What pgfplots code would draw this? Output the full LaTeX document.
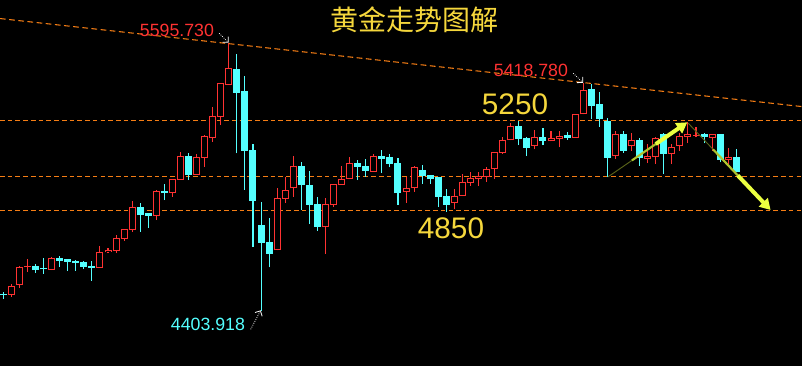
\documentclass[border=0pt]{standalone}
\usepackage{pgfplots}
\pgfplotsset{compat=1.18}
\usepackage{pgfplotstable}
\usepackage{fontspec}
\setmainfont{Liberation Sans}
\newfontfamily\cjk{Noto Sans CJK SC}
\usetikzlibrary{arrows.meta,calc}
\definecolor{cred}{RGB}{255,50,50}
\definecolor{ccyan}{RGB}{84,255,255}
\definecolor{corange}{RGB}{245,125,20}
\definecolor{cyellow}{RGB}{245,215,60}
\definecolor{ya}{RGB}{90,100,25}
\definecolor{yb}{RGB}{175,195,45}
\definecolor{yc}{RGB}{235,255,64}
\pgfplotsset{candle/.style={only marks, mark=*, mark options={opacity=0}, forget plot,
  error bars/.cd, y dir=plus, y explicit, error mark=none}}

% rising candles (red, hollow)
\pgfplotstableread{
i O H L C
2 4475 4523 4465 4514
3 4518 4603 4506 4597
4 4597 4634 4578 4603
7 4587 4643 4585 4639
13 4596 4692 4595 4665
14 4664 4682 4663 4674
15 4672 4741 4660 4727
16 4724 4767 4716 4767
17 4765 4893 4756 4865
20 4827 4942 4808 4937
22 4930 4991 4912 4991
23 4988 5110 4988 5092
25 5009 5101 5009 5088
26 5086 5187 5046 5181
27 5175 5311 5157 5270
28 5269 5417 5233 5417
29 5411 5595.73 5411 5484
35 4673 4949 4673 4905
36 4903 4999 4883 4941
37 4949 5093 4912 5048
41 4778 4906 4657 4879
42 4877 4969 4865 4969
43 4966 5049 4966 4990
44 4990 5088 4990 5061
47 5023 5102 5023 5092
51 4932 4999 4885 4949
52 4949 5049 4934 5043
57 4883 4945 4856 4915
58 4915 5013 4915 4976
59 4974 5021 4960 4995
60 4992 5021 4960 5004
61 4999 5043 4979 5034
62 5034 5110 4990 5110
63 5108 5179 5102 5165
64 5163 5242 5163 5226
67 5139 5208 5123 5177
69 5159 5205 5159 5172
70 5171 5204 5132 5181
72 5175 5279 5175 5279
73 5279 5418.78 5279 5388
77 5093 5205 5082 5190
79 5139 5197 5116 5163
81 5081 5146 5062 5093
82 5090 5177 5059 5172
84 5104 5146 5059 5134
85 5139 5195 5116 5183
86 5179 5244 5153 5192
87 5185 5223 5177 5189
89 5175 5190 5116 5190
91 5076 5128 5056 5088
}\up

% falling candles (cyan, filled)
\pgfplotstableread{
i O H L C
1 4478 4487 4456 4474
5 4603 4612 4573 4585
6 4592 4639 4569 4588
8 4639 4648 4600 4625
9 4634 4635 4582 4622
10 4627 4631 4582 4618
11 4622 4625 4591 4600
12 4603 4625 4538 4596
18 4865 4884 4755 4830
19 4838 4841 4774 4827
21 4937 4969 4897 4930
24 5093 5105 4986 5009
30 5480 5548 5105 5376
31 5383 5450 4942 5117
32 5120 5147 4689 4893
33 4786 4888 4403.918 4707
34 4709 4818 4597 4658
38 5048 5067 4853 4966
39 4966 5025 4790 4876
40 4878 4912 4761 4778
45 5062 5076 4986 5046
46 5049 5079 5001 5028
48 5093 5120 5019 5080
49 5088 5102 5043 5059
50 5062 5083 4875 4927
53 5031 5053 4969 5004
54 5009 5009 4969 4989
55 5000 5001 4865 4912
56 4915 4945 4845 4875
65 5226 5249 5142 5169
66 5174 5179 5093 5130
68 5178 5217 5142 5162
71 5187 5199 5165 5174
74 5390 5414 5260 5318
75 5325 5377 5224 5258
76 5249 5263 4998 5086
78 5190 5205 5108 5116
80 5163 5172 5049 5086
83 5190 5197 5013 5102
88 5190 5196 5150 5179
90 5191 5191 5065 5076
92 5088 5123 5021 5021
}\down

\begin{document}
\begin{tikzpicture}
\begin{axis}[
  scale only axis, width=601.5pt, height=274.5pt,
  xmin=0.59, xmax=100.16, ymin=4157.4, ymax=5788.7,
  axis line style={draw=none}, ticks=none,
  axis background/.style={fill=black},
]
% support / resistance lines
\addplot[corange, line width=0.8pt, dash pattern=on 3.5pt off 2.3pt] coordinates {(0.59,5250) (100.16,5250)};
\addplot[corange, line width=0.8pt, dash pattern=on 3.5pt off 2.3pt] coordinates {(0.59,5000) (100.16,5000)};
\addplot[corange, line width=0.8pt, dash pattern=on 3.5pt off 2.3pt] coordinates {(0.59,4850) (100.16,4850)};
% descending trend line
\addplot[corange, line width=0.8pt, dash pattern=on 4.3pt off 2.6pt] coordinates {(0.59,5706) (100.16,5313.6)};

% rising candles
\addplot[cred, candle, error bar style={line width=0.8pt}]
  table[x=i, y=L, y error plus expr={\thisrow{H}-\thisrow{L}}] {\up};
\addplot[cred, candle, error bar style={line width=5.25pt}]
  table[x=i, y=O, y error plus expr={\thisrow{C}-\thisrow{O}}] {\up};
\addplot[black, candle, error bar style={line width=3.75pt}]
  table[x=i, y expr={\thisrow{O}+4.46}, y error plus expr={max(\thisrow{C}-\thisrow{O}-8.92,0)}] {\up};

% falling candles
\addplot[ccyan, candle, error bar style={line width=0.8pt}]
  table[x=i, y=L, y error plus expr={\thisrow{H}-\thisrow{L}}] {\down};
\addplot[ccyan, candle, error bar style={line width=5.25pt}]
  table[x=i, y=C, y error plus expr={\thisrow{O}-\thisrow{C}}] {\down};

% texts
\node[text=cyellow, font=\cjk\fontsize{21}{21}\selectfont] at (axis cs:51.99,5699.6) {黄金走势图解};
\node[text=cred, font=\fontsize{13.3}{13.3}\selectfont] at (axis cs:22.56,5652.8) {5595.730};
\node[text=cred, font=\fontsize{13.3}{13.3}\selectfont] at (axis cs:66.51,5475.4) {5418.780};
\node[text=ccyan, font=\fontsize{13.3}{13.3}\selectfont] at (axis cs:26.41,4343) {4403.918};
\node[text=cyellow, font=\fontsize{22.3}{22.3}\selectfont] at (axis cs:64.53,5325.2) {5250};
\node[text=cyellow, font=\fontsize{22.3}{22.3}\selectfont] at (axis cs:56.58,4772.5) {4850};

% small pointers
\draw[white, densely dotted, line width=0.6pt, -{Straight Barb[length=3pt]}] (axis cs:27.80,5640.3) -- (axis cs:28.97,5598.4);
\draw[white, densely dotted, line width=0.6pt, -{Straight Barb[length=3pt]}] (axis cs:71.76,5462.0) -- (axis cs:72.99,5419.0);
\draw[white, densely dotted, line width=0.6pt, -{Straight Barb[length=3pt]}] (axis cs:31.72,4321) -- (axis cs:32.96,4405.5);

% yellow arrows
\coordinate (a1) at (axis cs:76.10,5001);
\coordinate (b1) at (axis cs:85.92,5243.5);
\coordinate (a2) at (axis cs:86.05,5239);
\coordinate (b2) at (axis cs:96.26,4852.7);
\draw[ya, line width=0.7pt] (a1) -- ($(a1)!0.3!(b1)$);
\draw[yb, line width=1.6pt] ($(a1)!0.3!(b1)$) -- ($(a1)!0.6!(b1)$);
\draw[yc, line width=3pt, -{Triangle[length=8pt,width=9pt]}] ($(a1)!0.6!(b1)$) -- (b1);
\draw[ya, line width=0.7pt] (a2) -- ($(a2)!0.3!(b2)$);
\draw[yb, line width=1.6pt] ($(a2)!0.3!(b2)$) -- ($(a2)!0.6!(b2)$);
\draw[yc, line width=3pt, -{Triangle[length=8pt,width=9pt]}] ($(a2)!0.6!(b2)$) -- (b2);
\end{axis}
\end{tikzpicture}
\end{document}
